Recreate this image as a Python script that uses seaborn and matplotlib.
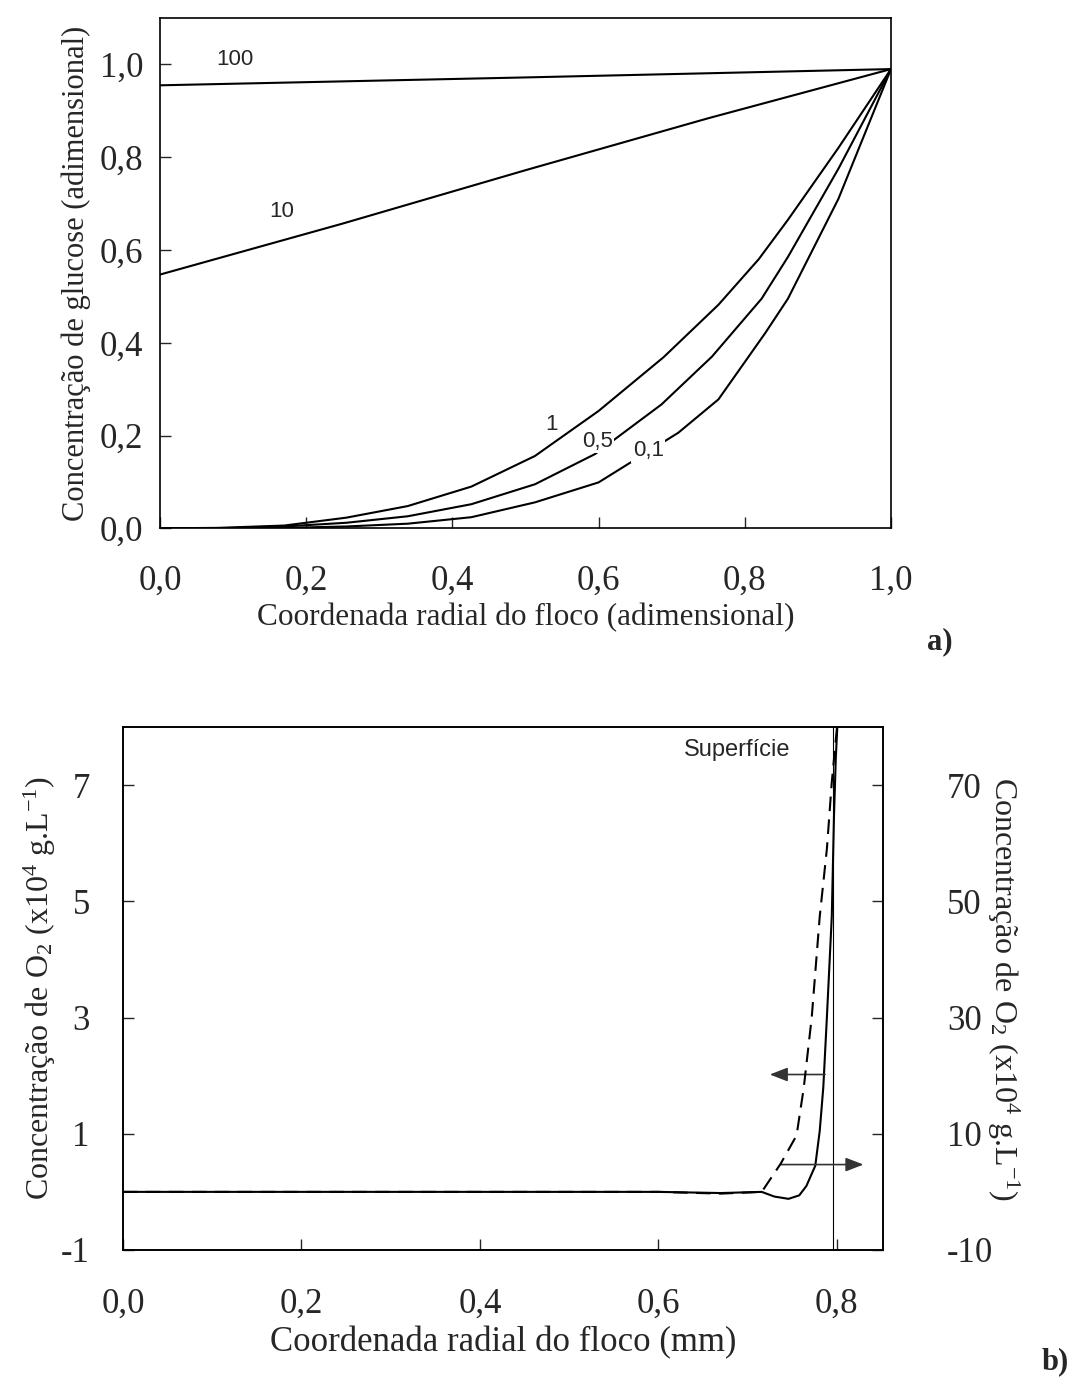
import numpy as np
import pandas as pd
import matplotlib
matplotlib.use("Agg")
import matplotlib.pyplot as plt
from matplotlib.ticker import FuncFormatter, FixedLocator
import seaborn as sns

# ---- painel a) perfis de glucose no floco (valores lidos da figura) ----
r_100 = [0.0, 0.5, 1.0]
c_100 = [0.955, 0.972, 0.99]
r_10 = [0.0, 0.25, 0.5, 0.75, 1.0]
c_10 = [0.547, 0.657, 0.772, 0.884, 0.99]
r_1 = [0.0, 0.08, 0.17, 0.255, 0.339, 0.426, 0.513, 0.6, 0.689, 0.764, 0.819, 0.859, 0.928, 1.0]
c_1 = [0.0, 0.001, 0.006, 0.023, 0.048, 0.09, 0.156, 0.253, 0.369, 0.482, 0.58, 0.665, 0.82, 0.99]
r_05 = [0.0, 0.08, 0.17, 0.255, 0.339, 0.426, 0.513, 0.595, 0.686, 0.755, 0.823, 0.859, 0.928, 1.0]
c_05 = [0.0, 0.0, 0.004, 0.012, 0.026, 0.052, 0.095, 0.16, 0.267, 0.37, 0.495, 0.585, 0.775, 0.99]
r_01 = [0.0, 0.08, 0.17, 0.255, 0.339, 0.426, 0.513, 0.6, 0.709, 0.764, 0.828, 0.859, 0.928, 1.0]
c_01 = [0.0, 0.0, 0.001, 0.004, 0.01, 0.024, 0.056, 0.099, 0.206, 0.278, 0.421, 0.495, 0.71, 0.99]

curve_names = ["100", "10", "1", "0,5", "0,1"]
label_x = [0.102, 0.166, 0.536, 0.598, 0.668]
label_y = [1.01, 0.683, 0.224, 0.188, 0.167]

# ---- painel b) perfis de O2 no floco ----
r_solid = [0.0, 0.1, 0.2, 0.3, 0.4, 0.5, 0.6, 0.67, 0.716, 0.73, 0.746, 0.758, 0.766,
           0.776, 0.781, 0.785, 0.789, 0.7945, 0.797, 0.799, 0.801]
o2_solid = [0.0, 0.0, 0.0, 0.0, 0.0, 0.0, 0.0, -0.02, 0.0, -0.08, -0.12, -0.06, 0.1,
            0.45, 1.05, 1.8, 3.0, 4.74, 6.48, 7.46, 8.1]
r_dash = [0.0, 0.1, 0.2, 0.3, 0.4, 0.5, 0.6, 0.67, 0.716, 0.737, 0.755, 0.763, 0.772,
          0.781, 0.789, 0.7945, 0.801]
o2_dash = [0.0, 0.0, 0.0, 0.0, 0.0, 0.0, 0.0, -0.3, 0.0, 4.8, 9.7, 17.8, 30.0,
           47.4, 59.0, 70.5, 81.0]
surface_r = 0.796
arrow_left = [(0.787, 2.02), (0.725, 2.02)]
arrow_right = [(0.737, 0.47), (0.83, 0.47)]

sns.set_theme(style="ticks")
plt.rcParams["font.family"] = ["Liberation Serif", "DejaVu Serif"]
plt.rcParams["mathtext.default"] = "regular"
plt.rcParams["axes.linewidth"] = 1.2
plt.rcParams["axes.edgecolor"] = "black"

SANS = ["Liberation Sans", "DejaVu Sans"]
comma = FuncFormatter(lambda v, p: f"{v:.1f}".replace(".", ","))
ints = FuncFormatter(lambda v, p: f"{v:.0f}")

fig = plt.figure(figsize=(10.7, 13.78), dpi=100)

# painel a
ax_a = fig.add_axes([0.1495, 0.6166, 0.6832, 0.3703])
rows = []
for name, xs, ys in zip(curve_names, [r_100, r_10, r_1, r_05, r_01], [c_100, c_10, c_1, c_05, c_01]):
    rows += [{"r": x, "c": y, "curva": name} for x, y in zip(xs, ys)]
df_a = pd.DataFrame(rows)
sns.lineplot(data=df_a, x="r", y="c", hue="curva", palette=["black"] * 5,
             estimator=None, sort=False, linewidth=1.5, legend=False, ax=ax_a)
for name, x, y in zip(curve_names, label_x, label_y):
    box = None if name in ("100", "10") else dict(fc="white", ec="none", pad=1.0)
    ax_a.text(x, y, name, family=SANS, fontsize=16, ha="center", va="center",
              bbox=box, zorder=5)
ax_a.set_xlim(0, 1)
ax_a.set_ylim(0, 1.1)
ax_a.xaxis.set_major_locator(FixedLocator([0, 0.2, 0.4, 0.6, 0.8, 1.0]))
ax_a.yaxis.set_major_locator(FixedLocator([0, 0.2, 0.4, 0.6, 0.8, 1.0]))
ax_a.xaxis.set_major_formatter(comma)
ax_a.yaxis.set_major_formatter(comma)
ax_a.tick_params(direction="in", length=8, width=1, labelsize=25, pad=12)
ax_a.tick_params(axis="x", pad=26)
ax_a.set_xlabel("Coordenada radial do floco (adimensional)", fontsize=22.5, labelpad=4)
ax_a.set_ylabel("Concentração de glucose (adimensional)", fontsize=22, labelpad=6)
fig.text(940 / 1070, 1 - 642 / 1378, "a)", fontsize=22, fontweight="bold",
         ha="center", va="center")

# painel b
ax_b = fig.add_axes([0.115, 0.0929, 0.7103, 0.3795])
ax_b2 = ax_b.twinx()
sns.lineplot(x=r_solid, y=o2_solid, color="black", linewidth=1.5,
             estimator=None, sort=False, ax=ax_b)
sns.lineplot(x=r_dash, y=o2_dash, color="black", linewidth=1.5,
             estimator=None, sort=False, ax=ax_b2)
ax_b2.lines[0].set_dashes([7, 4])
ax_b.axvline(surface_r, color="black", linewidth=0.8, zorder=1)
ax_b.text(0.688, 7.6, "Superfície", family=SANS, fontsize=17, ha="center", va="center")
for (x0, y0), (x1, y1) in [arrow_left, arrow_right]:
    ax_b.annotate("", xy=(x1, y1), xytext=(x0, y0),
                  arrowprops=dict(arrowstyle="-|>,head_length=0.9,head_width=0.35",
                                  color="#333333", linewidth=1.2, shrinkA=0, shrinkB=0))
ax_b.set_xlim(0, 0.852)
ax_b.set_ylim(-1, 8)
ax_b2.set_ylim(-10, 80)
ax_b.xaxis.set_major_locator(FixedLocator([0, 0.2, 0.4, 0.6, 0.8]))
ax_b.yaxis.set_major_locator(FixedLocator([-1, 1, 3, 5, 7]))
ax_b2.yaxis.set_major_locator(FixedLocator([-10, 10, 30, 50, 70]))
ax_b.xaxis.set_major_formatter(comma)
ax_b.yaxis.set_major_formatter(ints)
ax_b2.yaxis.set_major_formatter(ints)
ax_b.tick_params(direction="in", length=8, width=1, labelsize=25)
ax_b.tick_params(axis="x", pad=27)
ax_b.tick_params(axis="y", pad=24)
ax_b2.tick_params(direction="in", length=8, width=1, labelsize=25, pad=46)
for t in ax_b2.get_yticklabels():
    t.set_horizontalalignment("left")
ax_b.set_xlabel("Coordenada radial do floco (mm)", fontsize=25, labelpad=4)
ax_b.set_ylabel("Concentração de O$_2$ (x10$^4$ g.L$^{-1}$)", fontsize=23, labelpad=2)
ax_b2.set_ylabel("Concentração de O$_2$ (x10$^4$ g.L$^{-1}$)", fontsize=23,
                 rotation=-90, labelpad=20)
fig.text(1055 / 1070, 1 - 1362 / 1378, "b)", fontsize=22, fontweight="bold",
         ha="center", va="center")

fig.savefig("out.png", dpi=100)
